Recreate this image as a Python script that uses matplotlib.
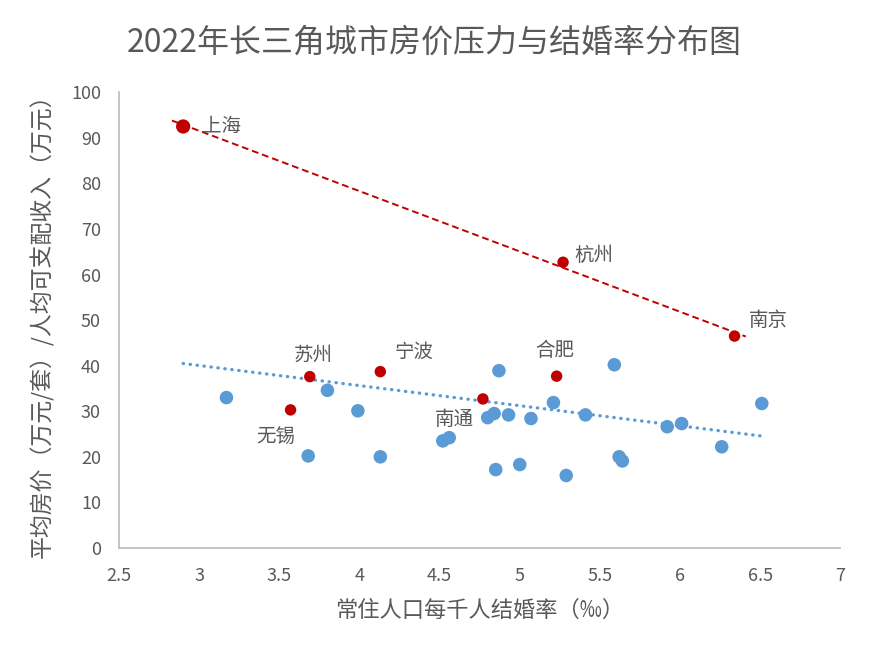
#!/usr/bin/env python3

import numpy as np
from matplotlib import pyplot as plt

plt.rcParams['font.family'] = ['Noto Sans CJK SC', 'DejaVu Sans']

# 一线城市 (red, with its own trend)
top_names = ["上海", "杭州", "南京"]
top_rate = [2.90, 5.27, 6.34]
top_price = [92.5, 62.7, 46.5]

# other labelled cities (red)
mid_names = ["苏州", "宁波", "无锡", "合肥", "南通"]
mid_rate = [3.69, 4.13, 3.57, 5.23, 4.77]
mid_price = [37.6, 38.7, 30.3, 37.7, 32.7]

# remaining cities (blue)
other_rate = [3.17, 3.80, 3.99, 3.68, 4.13, 4.52, 4.56, 4.87, 5.59, 5.21,
              4.80, 4.84, 4.93, 5.07, 5.41, 5.92, 6.01, 6.51, 6.26, 4.85,
              5.00, 5.29, 5.62, 5.64]
other_price = [33.0, 34.6, 30.1, 20.2, 20.0, 23.5, 24.2, 38.9, 40.2, 31.9,
               28.6, 29.5, 29.2, 28.4, 29.2, 26.6, 27.3, 31.7, 22.2, 17.2,
               18.3, 15.9, 20.0, 19.1]

# label anchor (data coords) for each named city
label_pos = {"上海": (3.02, 92.5, 'left'),
             "杭州": (5.34, 64.3, 'left'),
             "南京": (6.43, 50.0, 'left'),
             "苏州": (3.71, 42.3, 'center'),
             "宁波": (4.34, 43.0, 'center'),
             "无锡": (3.48, 24.4, 'center'),
             "合肥": (5.22, 43.4, 'center'),
             "南通": (4.59, 28.1, 'center')}

RED = '#C00000'
BLUE = '#5B9BD5'
GREY = '#595959'

fig = plt.figure(figsize=(8.69, 6.5), dpi=100)
ax = fig.add_axes([0.137, 0.157, 0.830, 0.701])

# trend lines: red over the three top cities, blue over every city
x_all = np.array(top_rate + mid_rate + other_rate)
y_all = np.array(top_price + mid_price + other_price)

p_top = np.polyfit(top_rate, top_price, 1)
xs = np.array([min(top_rate) - 0.07, max(top_rate) + 0.07])
ax.plot(xs, np.polyval(p_top, xs), color=RED, ls=(0, (3.5, 2)), lw=1.4, zorder=2)

p_all = np.polyfit(x_all, y_all, 1)
xs = np.array([x_all.min(), x_all.max()])
ax.plot(xs, np.polyval(p_all, xs), color=BLUE, ls=(0, (0.1, 2)), lw=2.4,
        dash_capstyle='round', zorder=2)

ax.scatter(other_rate, other_price, s=95, color=BLUE, edgecolors='none', zorder=3)
ax.scatter(mid_rate, mid_price, s=68, color=RED, edgecolors='none', zorder=4)
ax.scatter(top_rate[1:], top_price[1:], s=68, color=RED, edgecolors='none', zorder=4)
ax.scatter(top_rate[:1], top_price[:1], s=105, color=RED, edgecolors='none', zorder=4)

for name in top_names + mid_names:
    lx, ly, ha = label_pos[name]
    ax.text(lx, ly, name, ha=ha, va='center', fontsize=14, color=GREY)

ax.set_xlim(2.5, 7)
ax.set_ylim(0, 100)
ax.set_xticks(np.arange(2.5, 7.01, 0.5))
ax.set_xticklabels(['2.5', '3', '3.5', '4', '4.5', '5', '5.5', '6', '6.5', '7'])
ax.set_yticks(np.arange(0, 101, 10))
ax.tick_params(length=0, labelsize=13, labelcolor=GREY)
ax.tick_params(axis='x', pad=14)
ax.tick_params(axis='y', pad=13)

for s in ['top', 'right']:
    ax.spines[s].set_visible(False)
for s in ['left', 'bottom']:
    ax.spines[s].set_color('#BFBFBF')
    ax.spines[s].set_linewidth(1.3)

ax.set_xlabel("常住人口每千人结婚率（‰）", fontsize=16, color=GREY, labelpad=10)
ax.set_ylabel("平均房价（万元/套）/人均可支配收入（万元）", fontsize=16.5, color=GREY, labelpad=12)
fig.text(0.5, 0.934, "2022年长三角城市房价压力与结婚率分布图", ha='center', va='center',
         fontsize=23, color=GREY)

plt.savefig('out.png', dpi=100)
